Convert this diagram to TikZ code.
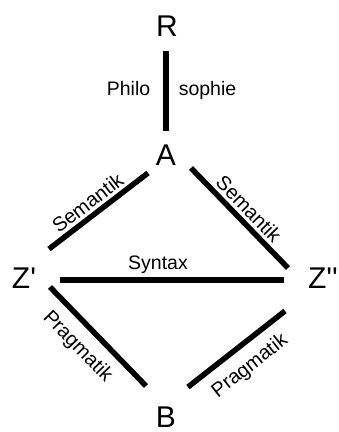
\documentclass[tikz,border=0pt]{standalone}
\usepackage{fontspec}
\setmainfont{Liberation Sans}[Ligatures=TeXOff]
\usetikzlibrary{calc}
\begin{document}
\begin{tikzpicture}[x=1pt,y=-1pt,
  big/.style={inner sep=0pt, font=\fontsize{30}{36}\selectfont},
  edge/.style={line width=5.5pt},
  lab/.style={inner sep=0pt, font=\fontsize{19.5}{23}\selectfont},
  dlab/.style={inner sep=0pt, sloped, font=\fontsize{20}{24}\selectfont}]
\fill[white] (0,0) rectangle (339,432);
\useasboundingbox (0,0) rectangle (339,432);
\node[big] (R) at (167,26) {R};
\node[big] (A) at (166,155) {A};
\node[big] (Zp) at (24,278) {Z\char39};
\node[big] (Zpp) at (323,278) {Z\char39\char39};
\node[big] (B) at (166,417) {B};
% Philosophie
\draw[edge] ($(R)+(-1,25)$) -- ($(A)+(0,-24)$)
  node[lab, pos=0.55, anchor=base east, xshift=-13pt] (philo) {Philo}
  node[lab, pos=0.55, anchor=base west, xshift=10pt] (sophie) {sophie};
% Semantik
\draw[edge] ($(Zp)+(25,-29)$) -- ($(A)+(-18,18)$)
  node[dlab, pos=0.47, above=3pt] (sem1) {Semantik};
\draw[edge] ($(A)+(25,13)$) -- ($(Zpp)+(-35,-10)$)
  node[dlab, pos=0.5, above=3pt] (sem2) {Semantik};
% Syntax
\draw[line width=6pt] ($(Zp)+(36,2)$) -- ($(Zpp)+(-39,2)$)
  node[lab, pos=0.4375, anchor=base, yshift=11pt] (syn) {Syntax};
% Pragmatik
\draw[edge] ($(Zp)+(26,9)$) -- ($(B)+(-20,-31)$)
  node[dlab, pos=0.45, below=10pt] (prag1) {Pragmatik};
\draw[edge] ($(B)+(22,-30)$) -- ($(Zpp)+(-38,33)$)
  node[dlab, pos=0.5, below=10pt] (prag2) {Pragmatik};
\end{tikzpicture}
\end{document}
